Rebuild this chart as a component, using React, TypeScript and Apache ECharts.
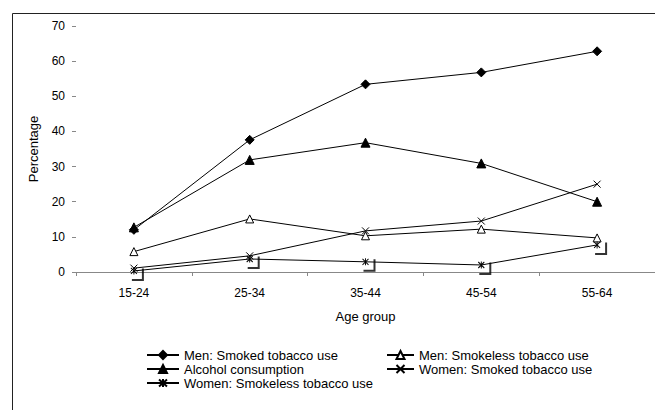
import React, { useEffect, useRef } from "react";
import * as echarts from "echarts";

const categories = ["15-24", "25-34", "35-44", "45-54", "55-64"];
const menSmoked = [12.0, 37.6, 53.4, 56.8, 62.8];
const menSmokeless = [5.8, 15.1, 10.3, 12.2, 9.7];
const alcohol = [12.7, 31.9, 36.8, 30.9, 20.0];
const womenSmoked = [1.1, 4.6, 11.7, 14.5, 25.0];
const womenSmokeless = [0.3, 3.7, 2.9, 2.0, 7.7];
const yTicks = [0, 10, 20, 30, 40, 50, 60, 70];

const NAMES = [
  "Men: Smoked tobacco use",
  "Men: Smokeless tobacco use",
  "Alcohol consumption",
  "Women: Smoked tobacco use",
  "Women: Smokeless tobacco use",
];

const FONT = "Liberation Sans, Arial, sans-serif";
const CROSS = "path://M-3 -3L3 3M3 -3L-3 3";
const STAR = "path://M-3 -3L3 3M3 -3L-3 3M0 -3.5L0 3.5";
const CORNER = "path://M8 -2.5L10 -2.5L10 10L-2 10L-2 8L8 8Z";

export default function App() {
  const ref = useRef<HTMLDivElement>(null);
  useEffect(() => {
    if (!ref.current) return;
    const chart = echarts.init(ref.current, undefined, { renderer: "svg" });
    const base = {
      type: "line",
      animation: false,
      lineStyle: { color: "#000", width: 1 },
      itemStyle: { color: "#000", borderColor: "#000", borderWidth: 1 },
      showSymbol: true,
      z: 3,
    };
    const legendText = { fontFamily: FONT, fontSize: 13, color: "#000", lineHeight: 14 };
    chart.setOption({
      animation: false,
      backgroundColor: "#fff",
      textStyle: { fontFamily: FONT, color: "#000" },
      grid: { left: 76, top: 26, width: 609, height: 246, containLabel: false },
      xAxis: {
        type: "category",
        data: categories,
        boundaryGap: true,
        name: "Age group",
        nameLocation: "middle",
        nameGap: 38,
        nameTextStyle: { fontFamily: FONT, fontSize: 13, color: "#000" },
        axisLine: { show: true, lineStyle: { color: "#888", width: 1 } },
        axisTick: { show: true, length: 4, lineStyle: { color: "#888" } },
        axisLabel: { fontFamily: FONT, fontSize: 12, color: "#000", margin: 15 },
        splitLine: { show: false },
      },
      yAxis: {
        type: "value",
        min: yTicks[0],
        max: yTicks[yTicks.length - 1],
        interval: 10,
        name: "Percentage",
        nameLocation: "middle",
        nameGap: 36,
        nameTextStyle: { fontFamily: FONT, fontSize: 13, color: "#000" },
        axisLine: { show: false },
        axisTick: { show: true, length: 4, lineStyle: { color: "#888" } },
        axisLabel: { fontFamily: FONT, fontSize: 12, color: "#000", margin: 11 },
        splitLine: { show: false },
      },
      legend: [
        {
          left: 146,
          top: 348,
          orient: "vertical",
          padding: 0,
          itemWidth: 32,
          itemHeight: 10,
          itemGap: 0,
          textStyle: legendText,
          data: [{ name: NAMES[0] }, { name: NAMES[2] }, { name: NAMES[4] }],
        },
        {
          left: 386,
          top: 348,
          orient: "vertical",
          padding: 0,
          itemWidth: 27,
          itemHeight: 10,
          itemGap: 0,
          textStyle: legendText,
          data: [{ name: NAMES[1] }, { name: NAMES[3] }],
        },
      ],
      graphic: [
        {
          type: "rect",
          shape: { x: 12.5, y: 13.5, width: 800, height: 600 },
          style: { fill: "none", stroke: "#222", lineWidth: 1 },
          silent: true,
        },
      ],
      series: [
        {
          ...base,
          name: NAMES[0],
          data: menSmoked,
          symbol: "diamond",
          symbolSize: 9,
        },
        {
          ...base,
          name: NAMES[1],
          data: menSmokeless,
          symbol: "triangle",
          symbolSize: 8,
          itemStyle: { color: "#fff", borderColor: "#000", borderWidth: 1 },
        },
        {
          ...base,
          name: NAMES[2],
          data: alcohol,
          symbol: "triangle",
          symbolSize: 9,
        },
        {
          ...base,
          name: NAMES[3],
          data: womenSmoked,
          symbol: CROSS,
          symbolSize: 7,
        },
        {
          ...base,
          name: NAMES[4],
          data: womenSmokeless,
          symbol: STAR,
          symbolSize: [6, 7],
        },
        {
          type: "scatter",
          name: "corner",
          data: womenSmokeless,
          symbol: CORNER,
          symbolSize: [12, 12.5],
          symbolOffset: [4, 3.75],
          itemStyle: { color: "#000" },
          silent: true,
          z: 2,
        },
      ],
    });
    return () => chart.dispose();
  }, []);
  return (
    <div
      ref={ref}
      style={{ position: "absolute", left: 0, top: 0, width: 655, height: 410 }}
    />
  );
}
